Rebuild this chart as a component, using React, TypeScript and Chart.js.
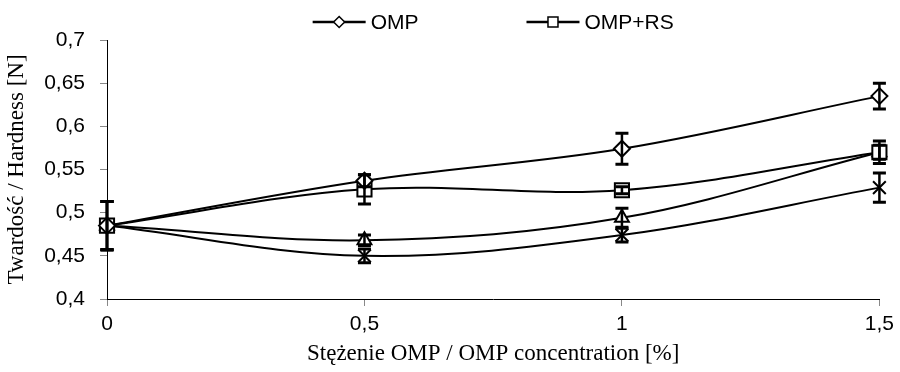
import React, { useEffect, useRef } from 'react';
import { Chart, registerables } from 'chart.js';

Chart.register(...registerables);

const xValues = [0, 0.5, 1, 1.5];
const seriesLabels = ['OMP', 'OMP+RS', 'Seria 3', 'Seria 4'];
const ompValues = [0.485, 0.537, 0.574, 0.635];
const ompErrors = [0.028, 0.007, 0.018, 0.015];
const ompRsValues = [0.485, 0.527, 0.526, 0.57];
const ompRsErrors = [0.028, 0.017, 0.004, 0.013];
const triValues = [0.485, 0.468, 0.494, 0.57];
const triErrors = [0.028, 0.006, 0.011, 0.008];
const starValues = [0.485, 0.45, 0.474, 0.529];
const starErrors = [0.028, 0.008, 0.008, 0.017];
const xTickLabels = ['0', '0,5', '1', '1,5'];
const yTickLabels = ['0,4', '0,45', '0,5', '0,55', '0,6', '0,65', '0,7'];
const legendShown = [0, 1];

const seriesValues = [ompValues, ompRsValues, triValues, starValues];
const seriesErrors = [ompErrors, ompRsErrors, triErrors, starErrors];
const seriesStyles = ['rectRot', 'rect', 'triangle', 'crossRot'];
const seriesRadius = [8, 10, 8, 9];

const SANS = '"Liberation Sans", Arial, sans-serif';
const SERIF = '"Liberation Serif", "Times New Roman", serif';

const errorBarPlugin = {
  id: 'errorBars',
  afterDatasetsDraw(chart: any) {
    const ctx = chart.ctx;
    const xs = chart.scales.x;
    const ys = chart.scales.y;
    ctx.save();
    ctx.strokeStyle = '#000';
    seriesErrors.forEach((errs, di) => {
      const vals = seriesValues[di];
      errs.forEach((e, i) => {
        const px = xs.getPixelForValue(xValues[i]);
        const yt = ys.getPixelForValue(vals[i] + e);
        const yb = ys.getPixelForValue(vals[i] - e);
        ctx.lineWidth = 2.5;
        ctx.beginPath();
        ctx.moveTo(px, yt);
        ctx.lineTo(px, yb);
        ctx.stroke();
        ctx.lineWidth = 3;
        ctx.beginPath();
        ctx.moveTo(px - 6.5, yt);
        ctx.lineTo(px + 6.5, yt);
        ctx.moveTo(px - 6.5, yb);
        ctx.lineTo(px + 6.5, yb);
        ctx.stroke();
      });
    });
    ctx.restore();
  },
};

const legendPlugin = {
  id: 'lineLegend',
  afterDraw(chart: any) {
    const ctx = chart.ctx;
    const ca = chart.chartArea;
    ctx.save();
    ctx.font = '21px ' + SANS;
    const lineLen = 53;
    const gapT = 5;
    const spacing = 108;
    const labels = legendShown.map((i) => chart.data.datasets[i].label as string);
    const widths = labels.map((l) => ctx.measureText(l).width);
    const total = widths.reduce((s, w) => s + lineLen + gapT + w, 0) + spacing * (labels.length - 1);
    let x = (ca.left + ca.right) / 2 - total / 2;
    const y = 22;
    legendShown.forEach((di, k) => {
      ctx.strokeStyle = '#000';
      ctx.lineWidth = 2.5;
      ctx.beginPath();
      ctx.moveTo(x, y);
      ctx.lineTo(x + lineLen, y);
      ctx.stroke();
      const cx = x + lineLen / 2;
      ctx.lineWidth = 1.5;
      ctx.fillStyle = '#fff';
      ctx.beginPath();
      if (seriesStyles[di] === 'rectRot') {
        const r = 5.5;
        ctx.moveTo(cx, y - r);
        ctx.lineTo(cx + r, y);
        ctx.lineTo(cx, y + r);
        ctx.lineTo(cx - r, y);
        ctx.closePath();
      } else {
        ctx.rect(cx - 5, y - 5, 10, 10);
      }
      ctx.fill();
      ctx.stroke();
      ctx.fillStyle = '#000';
      ctx.textAlign = 'left';
      ctx.textBaseline = 'middle';
      ctx.fillText(labels[k], x + lineLen + gapT, y + 1);
      x += lineLen + gapT + widths[k] + spacing;
    });
    ctx.restore();
  },
};

export default function App() {
  const canvasRef = useRef<HTMLCanvasElement | null>(null);

  useEffect(() => {
    if (!canvasRef.current) return;
    const datasets = seriesValues.map((vals, di) => ({
      label: seriesLabels[di],
      data: vals.map((v, i) => ({ x: xValues[i], y: v })),
      borderColor: '#000',
      backgroundColor: '#fff',
      borderWidth: 2,
      tension: 0.35,
      pointStyle: seriesStyles[di] as any,
      pointRadius: seriesRadius[di],
      pointBorderWidth: 2,
      pointBorderColor: '#000',
      pointBackgroundColor: '#fff',
      clip: false as any,
    }));
    const chart = new Chart(canvasRef.current, {
      type: 'line',
      data: { datasets },
      plugins: [errorBarPlugin, legendPlugin],
      options: {
        animation: false,
        responsive: true,
        maintainAspectRatio: false,
        layout: { padding: { top: 40, right: 20, left: 0, bottom: 0 } },
        plugins: {
          legend: { display: false },
          tooltip: { enabled: false },
        },
        scales: {
          x: {
            type: 'linear',
            min: 0,
            max: 1.5,
            afterFit: (s: any) => {
              s.height = 73;
            },
            ticks: {
              stepSize: 0.5,
              color: '#000',
              font: { family: SANS, size: 21 },
              padding: 6,
              maxRotation: 0,
              callback: (_v: any, i: number) => xTickLabels[i],
            },
            grid: {
              display: true,
              drawOnChartArea: false,
              drawTicks: true,
              tickLength: 7,
              color: '#888',
            },
            border: { display: true, color: '#000', width: 1 },
            title: {
              display: true,
              text: 'Stężenie OMP / OMP concentration [%]',
              color: '#000',
              font: { family: SERIF, size: 23 },
              padding: { top: 0, bottom: 4 },
            },
          },
          y: {
            type: 'linear',
            min: 0.4,
            max: 0.7,
            afterFit: (s: any) => {
              s.width = 107;
            },
            ticks: {
              stepSize: 0.05,
              color: '#000',
              font: { family: SANS, size: 21 },
              padding: 15,
              callback: (_v: any, i: number) => yTickLabels[i],
            },
            grid: {
              display: true,
              drawOnChartArea: false,
              drawTicks: true,
              tickLength: 7,
              color: '#888',
            },
            border: { display: true, color: '#000', width: 1 },
            title: {
              display: true,
              text: 'Twardość / Hardness [N]',
              color: '#000',
              font: { family: SERIF, size: 23 },
              padding: { top: 3, bottom: 0 },
            },
          },
        },
      },
    });
    return () => chart.destroy();
  }, []);

  return (
    <div style={{ position: 'fixed', left: 0, top: 0, width: 900, height: 372, background: '#fff' }}>
      <canvas ref={canvasRef} />
    </div>
  );
}
